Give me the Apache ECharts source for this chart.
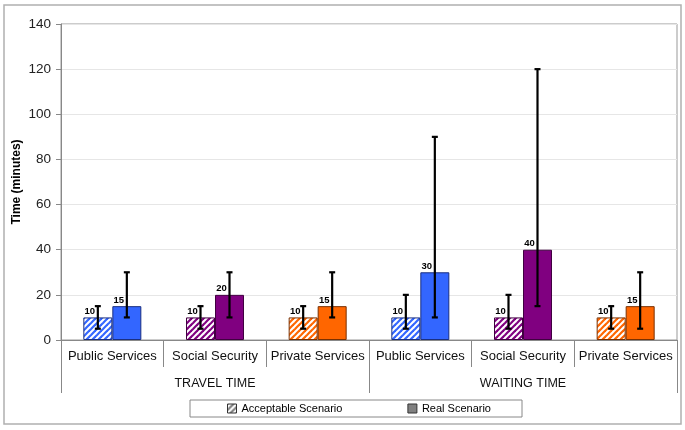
<!DOCTYPE html>
<html>
<head>
<meta charset="utf-8">
<script src="https://cdn.jsdelivr.net/npm/echarts@6/dist/echarts.min.js"></script>
<style>
html,body{margin:0;padding:0;background:#fff;}
#chart{width:685px;height:430px;}
</style>
</head>
<body>
<div id="chart"></div>
<script>
// ---- data ----
const categories = ['Public Services','Social Security','Private Services','Public Services','Social Security','Private Services'];
const groups = ['TRAVEL TIME','WAITING TIME'];
const acceptable = [10,10,10,10,10,10];
const real = [15,20,15,30,40,15];
const acceptableLow = [5,5,5,5,5,5];
const acceptableHigh = [15,15,15,20,20,15];
const realLow = [10,10,10,10,15,5];
const realHigh = [30,30,30,90,120,30];
const seriesNames = ['Acceptable Scenario','Real Scenario'];

// ---- styles ----
const FONT = '"Liberation Sans", Arial, sans-serif';
const fills = ['#3366FF','#800080','#FF6600'];
const borders = ['#1a2f80','#400040','#7a3000'];
const BAR_W = 29;

function hatch(color){
  const c = document.createElement('canvas');
  c.width = 6; c.height = 6;
  const ctx = c.getContext('2d');
  ctx.fillStyle = '#fff'; ctx.fillRect(0,0,6,6);
  ctx.strokeStyle = color; ctx.lineWidth = 2.2;
  [0,6,12].forEach(k=>{ctx.beginPath();ctx.moveTo(k-7,7);ctx.lineTo(k+1,-1);ctx.stroke();});
  return {image:c, repeat:'repeat'};
}

const chart = echarts.init(document.getElementById('chart'), null, {renderer:'canvas'});

const accData = acceptable.map((v,i)=>({value:v, itemStyle:{color:hatch(fills[i%3]), borderColor:borders[i%3]}}));
const realData = real.map((v,i)=>({value:v, itemStyle:{color:fills[i%3], borderColor:borders[i%3]}}));

function errSeries(name, lows, highs, offset){
  return {
    type:'custom', name:name, xAxisIndex:0, yAxisIndex:0, z:10,
    data: categories.map((c,i)=>[i, lows[i], highs[i]]),
    encode:{x:0, y:[1,2]},
    renderItem:function(params, api){
      const xi = api.value(0);
      const pLow = api.coord([xi, api.value(1)]);
      const pHigh = api.coord([xi, api.value(2)]);
      const x = pLow[0] + offset;
      const st = {stroke:'#000', lineWidth:2.2};
      return {type:'group', children:[
        {type:'line', shape:{x1:x,y1:pLow[1],x2:x,y2:pHigh[1]}, style:st},
        {type:'line', shape:{x1:x-3,y1:pLow[1],x2:x+3,y2:pLow[1]}, style:st},
        {type:'line', shape:{x1:x-3,y1:pHigh[1],x2:x+3,y2:pHigh[1]}, style:st}
      ]};
    }
  };
}

const labelStyle = {show:true, position:'top', distance:1, offset:[-8,0], fontFamily:FONT, fontSize:9.5, fontWeight:'bold', color:'#000'};

chart.setOption({
  animation:false,
  textStyle:{fontFamily:FONT},
  graphic:[
    {type:'rect', shape:{x:4,y:5,width:677,height:419}, style:{fill:'none', stroke:'#b0b0b0', lineWidth:1.5}, silent:true},
    {type:'rect', shape:{x:190,y:400,width:332,height:17}, style:{fill:'#fff', stroke:'#888', lineWidth:1}, silent:true, z:-1}
  ],
  grid:{left:61, right:8, top:24, bottom:90, show:true, borderColor:'#999', borderWidth:1},
  legend:{
    left:227, top:403, itemWidth:9, itemHeight:9, itemGap:65, padding:0,
    textStyle:{fontFamily:FONT, fontSize:11, color:'#000'},
    data:[
      {name:seriesNames[0], icon:'rect', itemStyle:{color:hatch('#808080'), borderColor:'#333', borderWidth:1}},
      {name:seriesNames[1], icon:'rect', itemStyle:{color:'#808080', borderColor:'#333', borderWidth:1}}
    ]
  },
  xAxis:[
    {type:'category', data:categories, position:'bottom',
      axisLine:{lineStyle:{color:'#888'}},
      axisTick:{show:true, length:27, interval:0, lineStyle:{color:'#888'}},
      axisLabel:{interval:0, margin:10, fontFamily:FONT, fontSize:13, color:'#111'}},
    {type:'category', data:groups, position:'bottom', gridIndex:0,
      axisLine:{show:false},
      axisTick:{show:true, length:53, interval:0, lineStyle:{color:'#888'}},
      axisLabel:{interval:0, margin:37, fontFamily:FONT, fontSize:12.5, color:'#111'}}
  ],
  yAxis:{type:'value', min:0, max:140, interval:20,
    name:'Time (minutes)', nameLocation:'middle', nameGap:38, nameMoveOverlap:false,
    nameTextStyle:{fontFamily:FONT, fontSize:12, fontWeight:'bold', color:'#000'},
    axisLine:{show:true, lineStyle:{color:'#888'}},
    axisTick:{show:true, length:5, lineStyle:{color:'#888'}},
    axisLabel:{fontFamily:FONT, fontSize:13.5, color:'#222', margin:10},
    splitLine:{lineStyle:{color:'#e6e6e6'}}},
  series:[
    {type:'bar', name:seriesNames[0], data:accData, barWidth:BAR_W, barGap:'0%',
      itemStyle:{color:'#808080', borderWidth:1}, label:labelStyle},
    {type:'bar', name:seriesNames[1], data:realData, barWidth:BAR_W, barGap:'0%',
      itemStyle:{color:'#808080', borderWidth:1}, label:labelStyle},
    errSeries('errAcc', acceptableLow, acceptableHigh, -BAR_W/2),
    errSeries('errReal', realLow, realHigh, BAR_W/2)
  ]
});
</script>
</body>
</html>
